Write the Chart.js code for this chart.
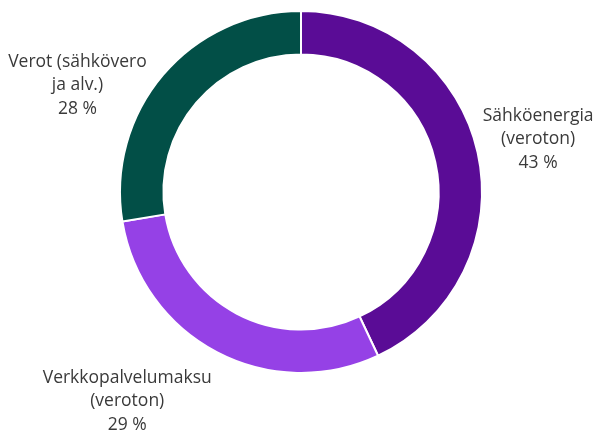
<!DOCTYPE html>
<html>
<head>
<meta charset="utf-8">
<script src="https://cdn.jsdelivr.net/npm/chart.js@4/dist/chart.umd.min.js"></script>
<style>
html,body{margin:0;padding:0;background:#fff;}
#wrap{width:598px;height:430px;position:relative;}
</style>
</head>
<body>
<div id="wrap"><canvas id="c" width="598" height="430"></canvas></div>
<script>
const categories = [["Sähköenergia", "(veroton)"], ["Verkkopalvelumaksu", "(veroton)"], ["Verot (sähkövero", "ja alv.)"]];
const shares = [43.0, 29.4, 27.6];
const colors = ["#5A0C96", "#9541E6", "#024F47"];

// label anchor offsets relative to the centre, in units of the outer radius
const labelOffsets = [[1.31, -0.29], [-0.96, 1.155], [-1.235, -0.59]];

const outsideLabels = {
  id: 'outsideLabels',
  afterDatasetsDraw(chart) {
    const ctx = chart.ctx;
    const meta = chart.getDatasetMeta(0);
    const arc0 = meta.data[0];
    const cx = arc0.x, cy = arc0.y, R = arc0.outerRadius;
    ctx.save();
    ctx.fillStyle = '#3a3a3a';
    ctx.font = '17.5px "Open Sans", sans-serif';
    ctx.textAlign = 'center';
    ctx.textBaseline = 'middle';
    const lh = 23.5;
    meta.data.forEach((arc, i) => {
      const lines = categories[i].concat([Math.round(shares[i]) + ' %']);
      const x = cx + labelOffsets[i][0] * R;
      const y = cy + labelOffsets[i][1] * R;
      lines.forEach((t, k) => {
        ctx.fillText(t, x, y + (k - (lines.length - 1) / 2) * lh);
      });
    });
    ctx.restore();
  }
};

new Chart(document.getElementById('c'), {
  type: 'doughnut',
  data: {
    labels: categories.map(c => c.join(' ')),
    datasets: [{
      data: shares,
      backgroundColor: colors,
      borderColor: '#ffffff',
      borderWidth: 2,
      hoverOffset: 0
    }]
  },
  options: {
    responsive: false,
    animation: false,
    cutout: '76%',
    layout: { padding: { top: 10, bottom: 56, left: 4, right: 0 } },
    plugins: {
      legend: { display: false },
      tooltip: { enabled: false }
    }
  },
  plugins: [outsideLabels]
});
</script>
</body>
</html>
